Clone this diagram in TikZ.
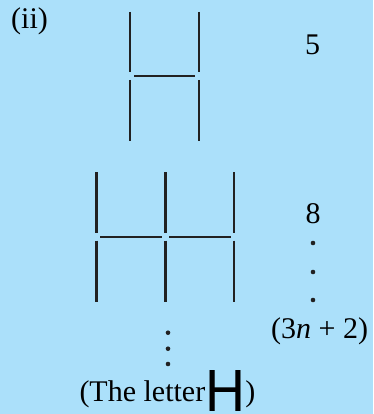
\documentclass[tikz,border=0pt]{standalone}
\usepackage{fontspec}
\setmainfont{Liberation Serif}
\setsansfont{Liberation Sans}
\usepackage{xcolor}
\definecolor{panelblue}{RGB}{171,224,250}
\tikzset{stick/.style={line width=2.8pt, draw=black!87},
  lbl/.style={font=\fontsize{30}{34}\selectfont, inner sep=0pt, anchor=base}}

\begin{document}
\begin{tikzpicture}[x=1pt,y=-1pt]
\fill[panelblue] (0,0) rectangle (373,414);
\useasboundingbox (0,0) rectangle (373,414);
% one H: five sticks
\draw[stick] (130,12) -- (130,72);
\draw[stick] (130,80) -- (130,141);
\draw[stick] (199,12) -- (199,72);
\draw[stick] (199,80) -- (199,141);
\draw[stick] (134,76) -- (195,76);
% two H: eight sticks
\foreach \x in {96.7,165.3,234} {
  \draw[stick] (\x,172) -- (\x,232.7);
  \draw[stick] (\x,240.7) -- (\x,301.7);
}
\draw[stick] (100,237) -- (161.7,237);
\draw[stick] (169,237) -- (230.7,237);
% dots
\foreach \y in {243,272,300} \fill[black!87] (313,\y) circle (2.3);
\foreach \y in {332.7,348.7,364} \fill[black!87] (168,\y) circle (2.3);
% labels
\node[lbl, anchor=base west] (part) at (11,28.5) {(ii)};
\node[lbl] (five) at (312.5,55) {5};
\node[lbl] (eight) at (313,223) {8};
\node[lbl, anchor=base west] (rule) at (271,338) {(3\textit{n} + 2)};
\node[lbl, anchor=base west] (letter) at (79.3,401.7)
  {(The letter\raisebox{-9.5pt}{\resizebox{40pt}{41pt}{\sffamily H}})};
\end{tikzpicture}
\end{document}
